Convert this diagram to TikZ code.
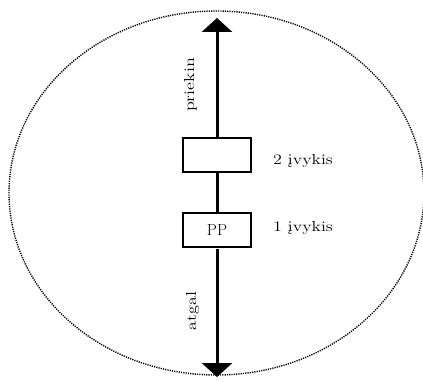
\documentclass[tikz,border=0pt]{standalone}
\usepackage{graphicx}
\usetikzlibrary{arrows.meta}
\newcommand\wtxt[1]{\scalebox{1.25}[1]{#1}}
\begin{document}
\begin{tikzpicture}[x=1pt,y=-1pt,
  box/.style={draw, line width=2pt, minimum width=68.5pt, minimum height=34pt, inner sep=0pt, font=\fontsize{16}{18}\selectfont},
  lbltext/.style={font=\fontsize{14.5}{17}\selectfont, inner sep=0pt},
  axisline/.style={line width=3pt},
  tipped/.style={axisline, -{Triangle[width=30pt,length=14pt]}},
  ring/.style={line width=1.4pt, dash pattern=on 1.2pt off 1.1pt}]
\useasboundingbox (0,0) rectangle (423,382);
\draw[ring] (216.5,193) ellipse [x radius=207.5pt, y radius=182pt];
\node[box] (ev2) at (217,155.5) {};
\node[box] (ev1) at (217,230.5) {PP};
\coordinate (topend) at (217,18);
\coordinate (botend) at (217,377);
\draw[tipped] (ev2.north) -- (topend);
\draw[axisline] (ev2.south) -- (ev1.north);
\draw[tipped] (ev1.south) -- (botend);
\node[lbltext, anchor=base west] (l2) at (273,165) {\wtxt{2 įvykis}};
\node[lbltext, anchor=base west] (l1) at (273,232) {\wtxt{1 įvykis}};
\node[lbltext, rotate=90, anchor=base] (fw) at (194,85) {\wtxt{priekin}};
\node[lbltext, rotate=90, anchor=base] (bw) at (196,311) {\wtxt{atgal}};
\end{tikzpicture}
\end{document}
